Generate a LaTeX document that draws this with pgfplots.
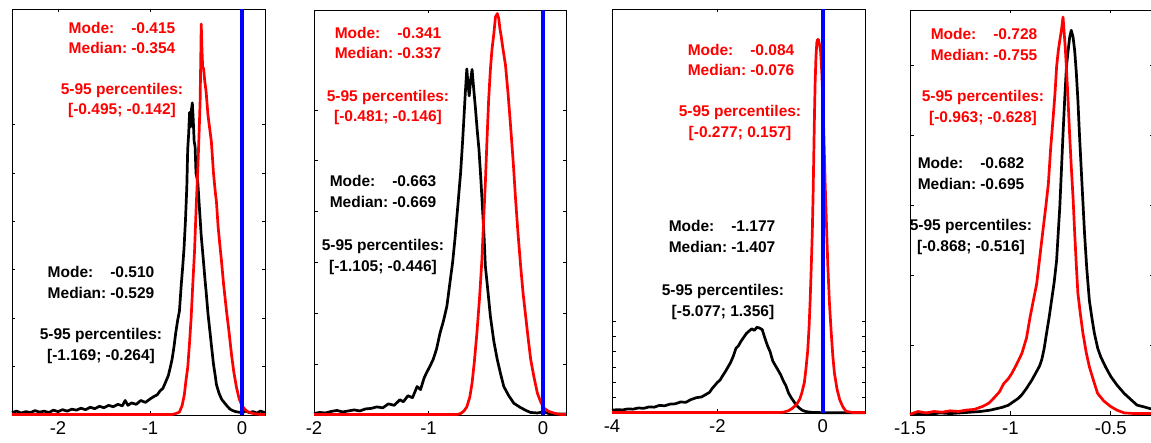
\documentclass[border=0pt]{standalone}
\usepackage{pgfplots}
\pgfplotsset{compat=1.18}
\usepackage{fontspec}
\setmainfont{Liberation Sans}
\definecolor{pred}{RGB}{255,0,0}
\definecolor{pblue}{RGB}{0,0,255}
\pgfplotsset{
 panel/.style={
  scale only axis, anchor=south west,
  axis line style={line width=0.9pt, black},
  tick align=inside, major tick length=3.5pt,
  tick style={line width=0.9pt, black},
  yticklabels={},
  xticklabel style={font=\fontsize{18.5}{18.5}\selectfont, yshift=-3pt},
  clip=false,
 },
 blk/.style={black, line width=2.7pt, line join=round},
 rd/.style={pred, line width=2.7pt, line join=round},
 bl/.style={pblue, line width=3.6pt},
}
\newcommand{\annfont}{\fontsize{15.5}{20.5}\selectfont\bfseries}
\newcommand{\modeblk}[5]{\node[text=#1, inner sep=0pt] at (#2pt,#3pt) {\annfont\begin{tabular}{@{}l@{\hspace{4pt}}r@{}}Mode: & #4\\ Median: & #5\end{tabular}};}
\newcommand{\percblk}[4]{\node[text=#1, inner sep=0pt, align=center, font=\annfont] at (#2pt,#3pt) {5-95 percentiles:\\{}#4};}
\begin{document}
\begin{tikzpicture}
\path[use as bounding box] (0,0) rectangle (1151pt,443pt);
% Panel 1
\begin{axis}[panel, at={(12pt,28pt)}, width=253pt, height=406pt,
  xmin=-2.5, xmax=0.25, ymin=0, ymax=8.39,
  xtick={-2,-1,0}, xticklabels={-2,-1,0}, ytick={0,1,2,3,4,5,6}]
\addplot[blk] coordinates {
(-2.50,0.05) (-2.45,0.08) (-2.40,0.04) (-2.35,0.07) (-2.30,0.05) (-2.25,0.09) (-2.20,0.06) (-2.15,0.08) (-2.10,0.05) (-2.05,0.10) (-2.00,0.07) (-1.95,0.11) (-1.90,0.08) (-1.85,0.12) (-1.80,0.10) (-1.75,0.14) (-1.70,0.11) (-1.65,0.16) (-1.60,0.13) (-1.55,0.18) (-1.50,0.15) (-1.45,0.20) (-1.40,0.17) (-1.35,0.22) (-1.30,0.19) (-1.27,0.30) (-1.24,0.20) (-1.20,0.25) (-1.15,0.22) (-1.10,0.30) (-1.05,0.26) (-1.00,0.33) (-0.96,0.38) (-0.92,0.42) (-0.89,0.50) (-0.86,0.55) (-0.83,0.68) (-0.80,0.82) (-0.78,0.98) (-0.76,1.15) (-0.74,1.40) (-0.72,1.70) (-0.70,1.95) (-0.68,2.15) (-0.66,2.70) (-0.645,3.05) (-0.63,3.45) (-0.615,4.00) (-0.60,4.70) (-0.59,5.50) (-0.58,5.80) (-0.57,6.25) (-0.56,5.95) (-0.55,6.30) (-0.54,6.45) (-0.53,6.10) (-0.52,5.65) (-0.51,5.55) (-0.50,5.00) (-0.48,4.80) (-0.46,4.20) (-0.443,3.70) (-0.42,3.20) (-0.40,2.75) (-0.39,2.55) (-0.37,2.10) (-0.35,1.75) (-0.333,1.45) (-0.31,1.05) (-0.29,0.80) (-0.278,0.63) (-0.25,0.45) (-0.22,0.32) (-0.19,0.25) (-0.16,0.18) (-0.13,0.12) (-0.10,0.09) (-0.07,0.07) (-0.04,0.06) (0.00,0.05) (0.04,0.08) (0.08,0.05) (0.12,0.07) (0.16,0.04) (0.20,0.08) (0.25,0.05)};
\addplot[rd] coordinates {
(-2.5,0.01) (-0.76,0.01) (-0.72,0.03) (-0.68,0.06) (-0.65,0.2) (-0.626,0.43) (-0.61,0.7) (-0.59,0.98) (-0.57,1.5) (-0.553,2.0) (-0.535,2.7) (-0.516,3.38) (-0.50,4.2) (-0.48,5.1) (-0.465,5.9) (-0.455,6.5) (-0.448,7.4) (-0.443,8.08) (-0.436,7.6) (-0.428,7.2) (-0.418,7.16) (-0.405,6.9) (-0.39,6.68) (-0.37,6.2) (-0.35,5.9) (-0.333,5.65) (-0.31,5.0) (-0.29,4.6) (-0.278,4.41) (-0.26,3.9) (-0.24,3.5) (-0.223,3.18) (-0.2,2.7) (-0.18,2.35) (-0.168,2.14) (-0.14,1.7) (-0.114,1.25) (-0.09,0.9) (-0.059,0.56) (-0.03,0.33) (0,0.19) (0.03,0.12) (0.06,0.07) (0.1,0.04) (0.125,0.03) (0.16,0.02) (0.2,0.01) (0.25,0.01)};
\addplot[bl] coordinates {(0,0) (0,8.39)};
\end{axis}
% Panel 2
\begin{axis}[panel, at={(314pt,28pt)}, width=252pt, height=405pt,
  xmin=-2, xmax=0.2, ymin=0, ymax=7.97,
  xtick={-2,-1,0}, xticklabels={-2,-1,0}, ytick={0,1,2,3,4,5,6}]
\addplot[blk] coordinates {
(-2.00,0.03) (-1.95,0.05) (-1.90,0.04) (-1.85,0.07) (-1.80,0.09) (-1.75,0.06) (-1.70,0.08) (-1.65,0.10) (-1.60,0.08) (-1.55,0.12) (-1.50,0.13) (-1.45,0.16) (-1.40,0.14) (-1.35,0.22) (-1.30,0.19) (-1.25,0.30) (-1.22,0.26) (-1.18,0.38) (-1.14,0.34) (-1.10,0.56) (-1.07,0.50) (-1.04,0.72) (-1.02,0.82) (-0.99,0.95) (-0.96,1.09) (-0.93,1.30) (-0.90,1.61) (-0.87,1.85) (-0.84,2.14) (-0.81,2.66) (-0.79,3.0) (-0.77,3.45) (-0.745,4.1) (-0.72,4.77) (-0.705,5.3) (-0.695,5.69) (-0.68,6.3) (-0.666,6.81) (-0.655,6.5) (-0.645,6.28) (-0.632,6.6) (-0.62,6.8) (-0.605,6.4) (-0.59,6.02) (-0.575,5.6) (-0.56,5.23) (-0.545,4.7) (-0.53,4.11) (-0.515,3.5) (-0.504,2.93) (-0.48,2.4) (-0.46,1.94) (-0.43,1.45) (-0.40,1.09) (-0.37,0.8) (-0.343,0.56) (-0.30,0.38) (-0.255,0.23) (-0.20,0.15) (-0.15,0.09) (-0.11,0.05) (-0.05,0.04) (0,0.06) (0.05,0.03) (0.1,0.02) (0.15,0.02) (0.2,0.02)};
\addplot[rd] coordinates {
(-2,0.01) (-0.75,0.01) (-0.72,0.03) (-0.69,0.08) (-0.666,0.16) (-0.64,0.35) (-0.62,0.63) (-0.60,1.05) (-0.578,1.61) (-0.555,2.3) (-0.534,3.06) (-0.52,3.8) (-0.504,4.57) (-0.49,5.4) (-0.475,6.22) (-0.46,6.8) (-0.446,7.2) (-0.43,7.5) (-0.416,7.83) (-0.40,7.9) (-0.387,7.8) (-0.377,7.6) (-0.367,7.47) (-0.35,7.2) (-0.328,6.88) (-0.305,6.3) (-0.284,5.69) (-0.26,4.95) (-0.24,4.24) (-0.22,3.6) (-0.196,2.93) (-0.175,2.4) (-0.152,1.94) (-0.13,1.5) (-0.108,1.09) (-0.08,0.75) (-0.05,0.43) (-0.02,0.25) (0.01,0.13) (0.05,0.07) (0.09,0.04) (0.126,0.02) (0.16,0.01) (0.2,0.01)};
\addplot[bl] coordinates {(0,0) (0,7.97)};
\end{axis}
% Panel 3
\begin{axis}[panel, at={(612pt,30pt)}, width=253pt, height=404pt,
  xmin=-4, xmax=0.8, ymin=0, ymax=26.4,
  xtick={-4,-2,0}, xticklabels={-4,-2,0}, ytick={0,1,2,3,4,5,6}]
\addplot[blk] coordinates {
(-4.0,0.18) (-3.9,0.22) (-3.8,0.2) (-3.7,0.27) (-3.6,0.25) (-3.5,0.33) (-3.4,0.3) (-3.3,0.4) (-3.2,0.38) (-3.1,0.5) (-3.0,0.47) (-2.9,0.58) (-2.8,0.6) (-2.7,0.72) (-2.6,0.7) (-2.5,0.88) (-2.4,1.0) (-2.3,1.05) (-2.2,1.25) (-2.15,1.35) (-2.1,1.6) (-2.05,1.8) (-2.0,2.0) (-1.95,2.15) (-1.9,2.44) (-1.85,2.7) (-1.8,3.0) (-1.75,3.3) (-1.7,3.7) (-1.65,4.22) (-1.6,4.4) (-1.55,4.7) (-1.5,4.95) (-1.45,5.2) (-1.4,5.35) (-1.35,5.5) (-1.3,5.4) (-1.25,5.6) (-1.2,5.55) (-1.15,5.45) (-1.1,4.9) (-1.05,4.4) (-1.0,4.0) (-0.95,3.4) (-0.9,3.1) (-0.85,2.8) (-0.8,2.5) (-0.75,2.1) (-0.7,1.78) (-0.65,1.3) (-0.6,1.0) (-0.55,0.75) (-0.5,0.5) (-0.45,0.33) (-0.4,0.2) (-0.35,0.12) (-0.3,0.08) (-0.2,0.04) (0,0.02) (0.3,0.02) (0.5,0.02) (0.8,0.02)};
\addplot[rd] coordinates {
(-4,0.03) (-0.85,0.03) (-0.75,0.05) (-0.65,0.15) (-0.57,0.33) (-0.5,0.55) (-0.44,0.89) (-0.4,1.3) (-0.35,2.0) (-0.32,2.9) (-0.286,4.1) (-0.26,5.7) (-0.24,7.4) (-0.22,9.5) (-0.2,11.8) (-0.185,14.2) (-0.17,17.2) (-0.158,19.6) (-0.146,21.6) (-0.13,23.3) (-0.114,24.2) (-0.1,24.4) (-0.083,24.4) (-0.065,24.1) (-0.044,23.7) (-0.02,22.3) (0,20.5) (0.02,18.1) (0.044,15.0) (0.07,12.2) (0.095,9.6) (0.125,7.2) (0.16,5.2) (0.19,3.7) (0.22,2.6) (0.27,1.55) (0.32,0.87) (0.38,0.4) (0.44,0.11) (0.55,0.04) (0.65,0.03) (0.8,0.03)};
\addplot[bl] coordinates {(0,0) (0,26.4)};
\end{axis}
% Panel 4
\begin{axis}[panel, at={(910pt,28pt)}, width=243pt, height=405pt,
  xmin=-1.5, xmax=-0.29, ymin=0, ymax=5.79,
  xtick={-1.5,-1,-0.5}, xticklabels={-1.5,-1,-0.5}, ytick={0,1,2,3,4,5}]
\addplot[blk] coordinates {
(-1.50,0.01) (-1.45,0.02) (-1.40,0.01) (-1.35,0.03) (-1.30,0.02) (-1.25,0.03) (-1.20,0.04) (-1.15,0.05) (-1.10,0.07) (-1.07,0.09) (-1.04,0.11) (-1.01,0.14) (-0.98,0.2) (-0.96,0.24) (-0.943,0.29) (-0.92,0.38) (-0.893,0.5) (-0.87,0.62) (-0.855,0.7) (-0.844,0.79) (-0.832,0.95) (-0.82,1.17) (-0.807,1.4) (-0.795,1.64) (-0.782,1.9) (-0.77,2.21) (-0.762,2.6) (-0.754,2.98) (-0.746,3.5) (-0.738,4.02) (-0.73,4.5) (-0.721,4.98) (-0.713,5.2) (-0.705,5.4) (-0.697,5.5) (-0.688,5.4) (-0.68,5.21) (-0.672,4.9) (-0.664,4.5) (-0.656,4.0) (-0.648,3.55) (-0.64,3.1) (-0.631,2.6) (-0.62,2.1) (-0.607,1.64) (-0.595,1.4) (-0.582,1.17) (-0.565,0.95) (-0.55,0.83) (-0.525,0.68) (-0.5,0.55) (-0.47,0.43) (-0.434,0.31) (-0.40,0.22) (-0.369,0.14) (-0.34,0.12) (-0.29,0.08)};
\addplot[rd] coordinates {
(-1.50,0.01) (-1.46,0.05) (-1.42,0.03) (-1.38,0.05) (-1.34,0.04) (-1.30,0.06) (-1.26,0.05) (-1.22,0.07) (-1.18,0.08) (-1.14,0.12) (-1.107,0.17) (-1.08,0.25) (-1.055,0.33) (-1.033,0.45) (-1.01,0.52) (-0.992,0.6) (-0.97,0.72) (-0.943,0.88) (-0.92,1.1) (-0.902,1.4) (-0.885,1.65) (-0.869,1.88) (-0.852,2.3) (-0.836,2.69) (-0.823,3.0) (-0.811,3.31) (-0.8,3.8) (-0.787,4.26) (-0.778,4.6) (-0.77,4.98) (-0.762,5.2) (-0.754,5.36) (-0.746,5.5) (-0.738,5.69) (-0.732,5.45) (-0.726,5.21) (-0.72,4.9) (-0.713,4.5) (-0.705,4.0) (-0.697,3.55) (-0.688,3.1) (-0.68,2.6) (-0.672,2.15) (-0.664,1.74) (-0.652,1.45) (-0.639,1.17) (-0.623,0.9) (-0.607,0.69) (-0.585,0.48) (-0.566,0.31) (-0.535,0.2) (-0.5,0.12) (-0.47,0.07) (-0.434,0.03) (-0.38,0.02) (-0.29,0.02)};
\end{axis}
% Annotations
\modeblk{pred}{122}{403.5}{-0.415}{-0.354}
\percblk{pred}{122}{342.5}{[-0.495; -0.142]}
\modeblk{black}{101}{159}{-0.510}{-0.529}
\percblk{black}{101}{97}{[-1.169; -0.264]}
\modeblk{pred}{388}{398.5}{-0.341}{-0.337}
\percblk{pred}{388}{335.5}{[-0.481; -0.146]}
\modeblk{black}{383}{250}{-0.663}{-0.669}
\percblk{black}{383}{186}{[-1.105; -0.446]}
\modeblk{pred}{741}{381.5}{-0.084}{-0.076}
\percblk{pred}{740}{320}{[-0.277; 0.157]}
\modeblk{black}{722}{205}{-1.177}{-1.407}
\percblk{black}{723}{141}{[-5.077; 1.356]}
\modeblk{pred}{984}{397}{-0.728}{-0.755}
\percblk{pred}{983}{335}{[-0.963; -0.628]}
\modeblk{black}{971}{268}{-0.682}{-0.695}
\percblk{black}{971}{206}{[-0.868; -0.516]}
\end{tikzpicture}
\end{document}
